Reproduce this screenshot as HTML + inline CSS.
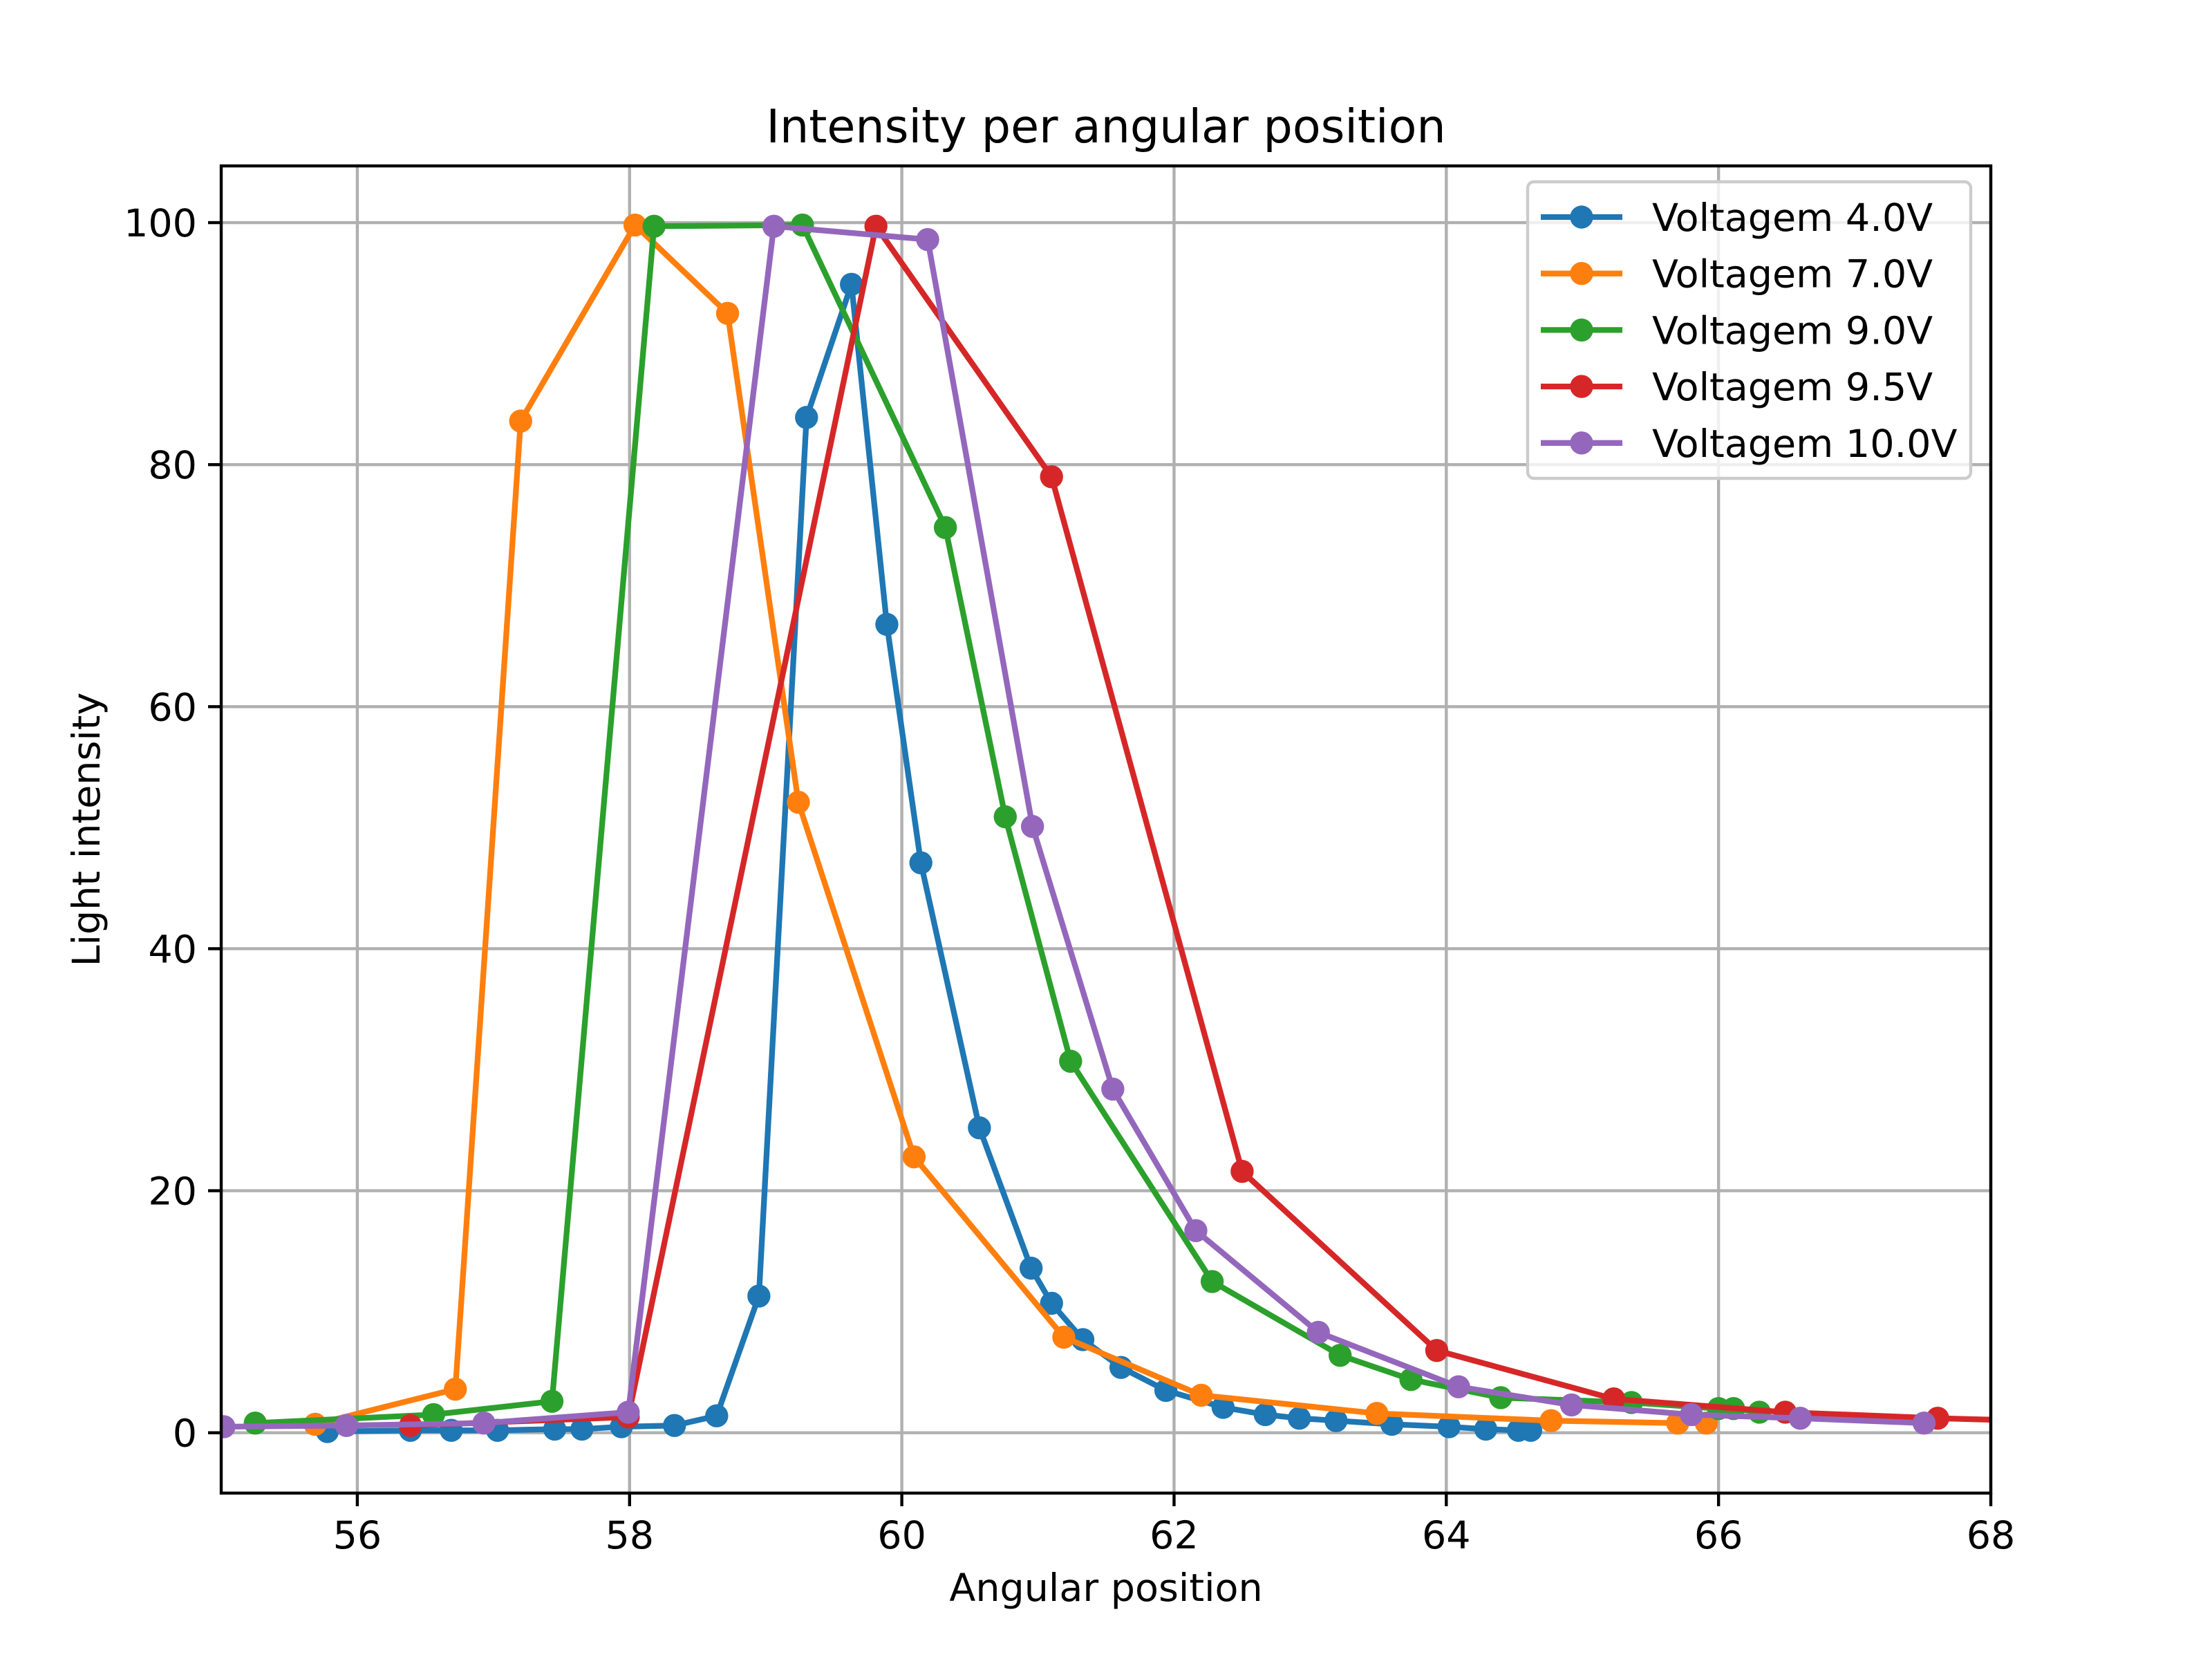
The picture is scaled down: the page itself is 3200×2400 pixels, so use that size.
<!DOCTYPE html>
<html><head><meta charset="utf-8"><style>html,body{margin:0;padding:0;background:#fff}svg{display:block}text{font-family:"DejaVu Sans","Liberation Sans",sans-serif;fill:#000}</style></head>
<body>
<svg id="chart" width="3200" height="2400" viewBox="0 0 3200 2400" xmlns="http://www.w3.org/2000/svg">
<rect x="0" y="0" width="3200" height="2400" fill="#fff"/>
<g id="grid"></g>
<g id="plot"></g>
<rect x="320" y="240" width="2560" height="1920" fill="none" stroke="#000" stroke-width="4.4"/>
<g id="ticks"></g>
<text x="1600" y="206" font-size="66.7" text-anchor="middle">Intensity per angular position</text>
<text x="1600" y="2316" font-size="55.5" text-anchor="middle">Angular position</text>
<text x="0" y="0" font-size="55.5" text-anchor="middle" transform="translate(144,1200) rotate(-90)">Light intensity</text>
<g id="legend"></g>
</svg>
<script>
const xTicks=[56,58,60,62,64,66,68];
const yTicks=[0,20,40,60,80,100];
const seriesNames=["Voltagem 4.0V","Voltagem 7.0V","Voltagem 9.0V","Voltagem 9.5V","Voltagem 10.0V"];
const colors=["#1f77b4","#ff7f0e","#2ca02c","#d62728","#9467bd"];
const x40=[55.78,56.39,56.69,57.03,57.45,57.65,57.94,58.33,58.64,58.95,59.30,59.63,59.89,60.14,60.57,60.95,61.10,61.33,61.61,61.94,62.36,62.67,62.92,63.19,63.60,64.02,64.29,64.53,64.62];
const y40=[0.1,0.2,0.2,0.2,0.3,0.3,0.5,0.6,1.4,11.3,83.9,94.9,66.8,47.1,25.2,13.6,10.7,7.7,5.4,3.5,2.1,1.5,1.2,1.0,0.7,0.5,0.3,0.2,0.2];
const x70=[55.69,56.72,57.20,58.04,58.72,59.24,60.09,61.19,62.20,63.49,64.77,65.70,65.91];
const y70=[0.7,3.6,83.6,99.8,92.5,52.1,22.8,7.9,3.1,1.6,1.0,0.8,0.8];
const x90=[55.25,56.56,57.43,58.18,59.27,60.32,60.76,61.24,62.28,63.22,63.74,64.40,65.36,66.0,66.11,66.30];
const y90=[0.8,1.5,2.6,99.7,99.8,74.8,50.9,30.7,12.5,6.4,4.4,2.9,2.5,2.0,2.0,1.7];
const x95=[56.39,57.99,59.81,61.10,62.50,63.93,65.23,66.49,67.61,68.6];
const y95=[0.6,1.3,99.7,79.0,21.6,6.8,2.8,1.7,1.2,0.9];
const x100=[55.02,55.92,56.93,57.99,59.06,60.19,60.96,61.55,62.16,63.06,64.09,64.92,65.80,66.60,67.51];
const y100=[0.5,0.6,0.8,1.7,99.7,98.6,50.1,28.4,16.7,8.3,3.8,2.3,1.5,1.2,0.8];
const xs=[x40,x70,x90,x95,x100], ys=[y40,y70,y90,y95,y100];
const NS="http://www.w3.org/2000/svg";
const L=320,R=2880,T=240,B=2160,XMIN=55,XMAX=68,YMIN=-4.985,YMAX=104.685;
function sx(v){return L+(v-XMIN)/(XMAX-XMIN)*(R-L);}
function sy(v){return B-(v-YMIN)/(YMAX-YMIN)*(B-T);}
function mk(tag,a,parent){const e=document.createElementNS(NS,tag);for(const k in a)e.setAttribute(k,a[k]);parent.appendChild(e);return e;}
const grid=document.getElementById('grid'),ticks=document.getElementById('ticks'),plot=document.getElementById('plot'),leg=document.getElementById('legend');
xTicks.forEach(t=>{const x=sx(t);
 const g=mk('line',{x1:x,x2:x,y1:T,y2:B,stroke:'#b0b0b0','stroke-width':4.4},grid);
 
 
 const tk=mk('line',{x1:x,x2:x,y1:B,y2:B+19,stroke:'#000','stroke-width':4.4},ticks);
 
 
 const tx=mk('text',{x:x,y:B+80,'font-size':55.5,'text-anchor':'middle'},ticks);tx.textContent=t;
 
 
});
yTicks.forEach(t=>{const y=sy(t);
 const g=mk('line',{x1:L,x2:R,y1:y,y2:y,stroke:'#b0b0b0','stroke-width':4.4},grid);
 
 
 const tk=mk('line',{x1:L-19,x2:L,y1:y,y2:y,stroke:'#000','stroke-width':4.4},ticks);
 
 
 const tx=mk('text',{x:L-35,y:y+20,'font-size':55.5,'text-anchor':'end'},ticks);tx.textContent=t;
 
 
});
const clip=mk('clipPath',{id:'clp'},plot);mk('rect',{x:L,y:T,width:R-L,height:B-T},clip);
xs.forEach((xa,i)=>{
 const g=mk('g',{'clip-path':'url(#clp)'},plot);
 
 
 const pts=xa.map((v,j)=>sx(v)+','+sy(ys[i][j])).join(' ');
 const pl=mk('polyline',{points:pts,fill:'none',stroke:colors[i],'stroke-width':8.3,'stroke-linejoin':'round','stroke-linecap':'square'},g);
 
 
 xa.forEach((v,j)=>{const c=mk('circle',{cx:sx(v),cy:sy(ys[i][j]),r:16.7,fill:colors[i]},g);
  
  });
});
const lb=mk('rect',{x:2210,y:263,width:641,height:429,rx:9,fill:'#fff','fill-opacity':0.8,stroke:'#cccccc','stroke-width':4.4},leg);


seriesNames.forEach((n,i)=>{const y=314+i*81.7;
 const g=mk('g',{},leg);
 
 
 mk('line',{x1:2229,x2:2347,y1:y,y2:y,stroke:colors[i],'stroke-width':8.3},g);
 mk('circle',{cx:2288,cy:y,r:16.7,fill:colors[i]},g);
 const t=mk('text',{x:2390,y:y+20,'font-size':55.5},g);t.textContent=n;
});
</script>
</body></html>
